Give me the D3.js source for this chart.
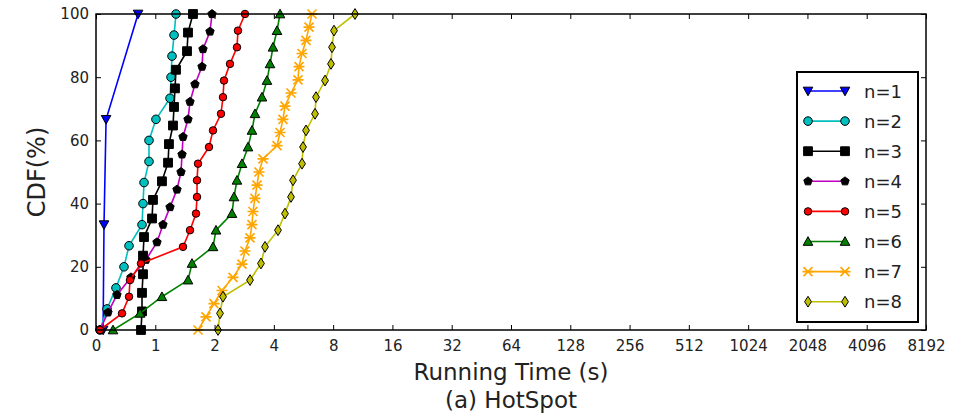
<!DOCTYPE html>
<html><head><meta charset="utf-8">
<script src="https://cdn.jsdelivr.net/npm/d3@7"></script>
<style>body{margin:0;background:#fff;} text{font-family:"DejaVu Sans",sans-serif;}</style>
</head><body><svg id="c" width="969" height="415"></svg>
<script>
// ---- data (running times in seconds, sorted; CDF rank -> percent) ----
const seriesNames = ["n=1","n=2","n=3","n=4","n=5","n=6","n=7","n=8"];
const times1 = [0.12, 0.135, 0.17, 0.71];
const times2 = [0.067, 0.186, 0.337, 0.472, 0.557, 0.776, 0.793, 0.810, 0.894, 0.894, 1.008, 1.188, 1.202, 1.216, 1.245, 1.274];
const times3 = [0.759, 0.776, 0.776, 0.793, 0.793, 0.810, 0.945, 0.961, 1.081, 1.161, 1.173, 1.230, 1.245, 1.259, 1.274, 1.449, 1.466, 1.554];
const times4 = [0.067, 0.202, 0.354, 0.590, 0.843, 1.020, 1.094, 1.188, 1.289, 1.351, 1.367, 1.383, 1.466, 1.501, 1.591, 1.727, 1.747, 1.896, 1.941];
const times5 = [0.067, 0.439, 0.557, 0.573, 0.759, 1.383, 1.501, 1.610, 1.629, 1.629, 1.648, 1.874, 1.964, 2.156, 2.207, 2.233, 2.395, 2.599, 2.630, 2.854];
const times6 = [0.287, 0.742, 1.081, 1.466, 1.536, 1.964, 2.034, 2.452, 2.510, 2.599, 2.757, 2.957, 3.097, 3.209, 3.482, 3.691, 3.824, 3.960, 4.150, 4.299];
const times7 = [1.648, 1.809, 1.986, 2.181, 2.481, 2.757, 2.854, 3.027, 3.097, 3.134, 3.209, 3.285, 3.362, 3.524, 4.150, 4.299, 4.451, 4.556, 4.888, 5.303, 5.366, 5.560, 5.826, 6.033, 6.248];
const times8 = [2.082, 2.131, 2.207, 3.027, 3.441, 3.607, 4.198, 4.556, 4.888, 5.004, 5.560, 5.624, 5.826, 6.472, 6.548, 7.277, 7.802, 7.895, 8.081, 10.33];
const allTimes = [times1, times2, times3, times4, times5, times6, times7, times8];
const xTickLabels = [0,1,2,4,8,16,32,64,128,256,512,1024,2048,4096,8192];
const yTickLabels = [0,20,40,60,80,100];

// ---- styles ----
const lineColors = ["#0000ff","#00bfbf","#000000","#bf00bf","#ff0000","#008000","#ffa500","#bfbf00"];
const markerFill = ["#0000ff","#00bfbf","#000000","#000000","#ff0000","#008000","none","#bfbf00"];
const markerKind = ["tridown","circle","square","pentagon","circle2","triup","xbar","thindiamond"];

function markerPath(kind){
  switch(kind){
    case "tridown": { const r=4.8; return `M${-r},${-r*0.8}L${r},${-r*0.8}L0,${r}Z`; }
    case "triup": { const r=4.8; return `M${-r},${r*0.8}L${r},${r*0.8}L0,${-r}Z`; }
    case "circle": return d3.symbol(d3.symbolCircle, 58)();
    case "circle2": return d3.symbol(d3.symbolCircle, 44)();
    case "square": { const s=4.4; return `M${-s},${-s}H${s}V${s}H${-s}Z`; }
    case "pentagon": { const r=4.4; let p=""; for(let i=0;i<5;i++){const a=-Math.PI/2+i*2*Math.PI/5; p+=(i?"L":"M")+(r*Math.cos(a)).toFixed(2)+","+(r*Math.sin(a)).toFixed(2);} return p+"Z"; }
    case "xbar": { const r=4.5; return `M${-r},${-r}L${r},${r}M${-r},${r}L${r},${-r}M${-r-1},0L${r+1},0`; }
    case "thindiamond": { const w=3.4,h=5.4; return `M0,${-h}L${w},0L0,${h}L${-w},0Z`; }
  }
}

const W=969,H=415, L=96, R=926, T=14, B=330;
const svg = d3.select("#c");

// transformed scale: linear in [0,1], log2 beyond
const tf = v => v < 1 ? v : Math.log2(v) + 1;
const xLin = d3.scaleLinear().domain([0, 14]).range([L, R]);
const x = v => xLin(tf(v));
const y = d3.scaleLinear().domain([0, 100]).range([B, T]);

// axes (inward ticks, all four sides)
const xAxisB = d3.axisBottom(xLin).tickValues(xTickLabels.map(tf)).tickFormat((d,i)=>xTickLabels[i]).tickSizeInner(-5).tickSizeOuter(0).tickPadding(10);
const xAxisT = d3.axisTop(xLin).tickValues(xTickLabels.map(tf)).tickFormat("").tickSizeInner(-5).tickSizeOuter(0);
const yAxisL = d3.axisLeft(y).tickValues(yTickLabels).tickSizeInner(-5).tickSizeOuter(0).tickPadding(7);
const yAxisR = d3.axisRight(y).tickValues(yTickLabels).tickFormat("").tickSizeInner(-5).tickSizeOuter(0);

function styleAxis(g){
  g.select(".domain").remove();
  g.selectAll(".tick line").attr("stroke","#000").attr("stroke-width",1);
  g.selectAll(".tick text").attr("fill","#222").style("font-size","15px").style("font-family","DejaVu Sans");
}
svg.append("g").attr("transform",`translate(0,${B})`).call(xAxisB).call(styleAxis);
svg.append("g").attr("transform",`translate(0,${T})`).call(xAxisT).call(styleAxis);
svg.append("g").attr("transform",`translate(${L},0)`).call(yAxisL).call(styleAxis);
svg.append("g").attr("transform",`translate(${R},0)`).call(yAxisR).call(styleAxis);

// series
const line = d3.line().x(d=>x(d[0])).y(d=>y(d[1]));
const plot = svg.append("g");
allTimes.forEach((ts, si) => {
  const n = ts.length;
  const pts = ts.map((t,i)=>[t, i/(n-1)*100]);
  plot.append("path").datum(pts).attr("d", line).attr("fill","none")
    .attr("stroke", lineColors[si]).attr("stroke-width",1.6);
  const mk = markerPath(markerKind[si]);
  plot.selectAll(null).data(pts).enter().append("path")
    .attr("d", mk).attr("transform", d=>`translate(${x(d[0])},${y(d[1])})`)
    .attr("fill", markerFill[si])
    .attr("stroke", markerKind[si]==="xbar" ? lineColors[si] : "#000")
    .attr("stroke-width", markerKind[si]==="xbar" ? 1.6 : 1);
});

// frame
svg.append("rect").attr("x",L).attr("y",T).attr("width",R-L).attr("height",B-T)
  .attr("fill","none").attr("stroke","#000").attr("stroke-width",1.5);

// axis titles
svg.append("text").attr("x",(L+R)/2).attr("y",380).attr("text-anchor","middle")
  .style("font-size","23px").attr("fill","#222").text("Running Time (s)");
svg.append("text").attr("x",(L+R)/2).attr("y",408).attr("text-anchor","middle")
  .style("font-size","23px").attr("fill","#222").text("(a) HotSpot");
svg.append("text").attr("transform",`translate(45,${(T+B)/2}) rotate(-90)`).attr("text-anchor","middle")
  .style("font-size","24px").attr("fill","#222").text("CDF(%)");

// legend
const lg = svg.append("g");
lg.append("rect").attr("x",797).attr("y",72).attr("width",121).attr("height",250)
  .attr("fill","#fff").attr("stroke","#000").attr("stroke-width",2);
seriesNames.forEach((nm, si) => {
  const yy = 91 + si*30.1;
  lg.append("line").attr("x1",808).attr("x2",845).attr("y1",yy).attr("y2",yy)
    .attr("stroke",lineColors[si]).attr("stroke-width",1.6);
  const mk = markerPath(markerKind[si]);
  [808,845].forEach(xx => lg.append("path").attr("d",mk).attr("transform",`translate(${xx},${yy})`)
    .attr("fill",markerFill[si])
    .attr("stroke", markerKind[si]==="xbar" ? lineColors[si] : "#000")
    .attr("stroke-width", markerKind[si]==="xbar" ? 1.6 : 1));
  lg.append("text").attr("x",864).attr("y",yy+6.5).style("font-size","18px").attr("fill","#222").text(nm);
});
</script></body></html>
